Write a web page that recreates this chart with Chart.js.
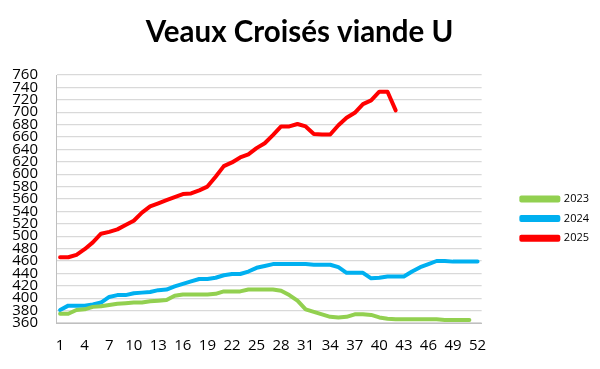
<!DOCTYPE html>
<html>
<head>
<meta charset="utf-8">
<script src="https://cdn.jsdelivr.net/npm/chart.js@4.4.1/dist/chart.umd.min.js"></script>
<style>
  html, body { margin: 0; padding: 0; background: #fff; }
  #wrap { width: 600px; height: 369px; position: relative; }
</style>
</head>
<body>
<div id="wrap"><canvas id="chart"></canvas></div>
<script>
const TITLE = 'Veaux Croisés viande U'
const SEMAINES = Array.from({ length: 52 }, (_, i) => String(i + 1))
const Y_MIN = 360
const Y_MAX = 760
const Y_STEP = 20

const SERIES_LABELS = ['2023', '2024', '2025']
const SERIES_COLORS = ['#92d050', '#00b0f0', '#ff0000']

const V2023 = [375, 375, 381, 382, 386, 387, 389, 391, 392, 393, 393, 395, 396, 397, 404, 406, 406, 406, 406, 407,
  411, 411, 411, 414, 414, 414, 414, 412, 405, 396, 382, 378, 374, 370, 369, 370, 374, 374, 373, 369,
  367, 366, 366, 366, 366, 366, 366, 365, 365, 365, 365, null]
const V2024 = [381, 388, 388, 388, 390, 393, 402, 405, 405, 408, 409, 410, 413, 414, 419, 423, 427, 431, 431, 433,
  437, 439, 439, 443, 449, 452, 455, 455, 455, 455, 455, 454, 454, 454, 450, 441, 441, 441, 432, 433,
  435, 435, 435, 443, 450, 455, 460, 460, 459, 459, 459, 459]
const V2025 = [466, 466, 470, 479, 490, 504, 507, 511, 518, 525, 538, 548, 553, 558, 563, 568, 569, 574, 580, 596,
  613, 619, 627, 632, 642, 650, 663, 677, 677, 681, 677, 665, 664, 664, 679, 691, 699, 713, 719, 733,
  733, 703]

const VALUES = [V2023, V2024, V2025]
const FONT = 'Open Sans'

new Chart(document.getElementById('chart'), {
  type: 'line',
  data: {
    labels: SEMAINES,
    datasets: SERIES_LABELS.map((lbl, i) => ({
      label: lbl,
      data: VALUES[i],
      borderColor: SERIES_COLORS[i],
      backgroundColor: SERIES_COLORS[i],
      borderWidth: 4,
      pointRadius: 0,
      tension: 0,
      borderJoinStyle: 'round',
      borderCapStyle: 'round',
      spanGaps: false
    }))
  },
  options: {
    responsive: true,
    maintainAspectRatio: false,
    animation: false,
    layout: { padding: { left: 0, right: 1, top: 0, bottom: 0 } },
    plugins: {
      title: {
        display: true,
        text: TITLE,
        color: '#000',
        font: { family: 'Lato', size: 29.5, weight: 'bold' },
        padding: { top: 15, bottom: 24.6 }
      },
      legend: {
        display: true,
        position: 'right',
        fullSize: false,
        align: 'center',
        title: { display: true, text: '', font: { size: 1 }, padding: { top: 19, bottom: 19 } },
        labels: {
          color: '#000',
          font: { family: FONT, size: 11 },
          boxWidth: 37,
          boxHeight: 3,
          padding: 8.7
        }
      },
      tooltip: { enabled: false }
    },
    scales: {
      x: {
        offset: true,
        grid: { display: false, drawTicks: false },
        border: { display: true, color: '#bfbfbf', width: 1 },
        ticks: {
          color: '#000',
          font: { family: FONT, size: 15 },
          padding: 14,
          autoSkip: false,
          maxRotation: 0,
          callback: function (v, i) { return i % 3 === 0 ? this.getLabelForValue(v) : '' }
        },
        afterFit: s => { s.height = 46 }
      },
      y: {
        min: Y_MIN,
        max: Y_MAX,
        grid: { color: '#d9d9d9', lineWidth: 1.3, drawTicks: false },
        border: { display: true, color: '#bfbfbf', width: 1 },
        ticks: {
          stepSize: Y_STEP,
          color: '#000',
          font: { family: FONT, size: 15, lineHeight: 1 },
          padding: 18,
          autoSkip: false
        },
        afterFit: s => { s.width = 56 }
      },
      gap: {
        position: 'right',
        display: true,
        grid: { display: false, drawTicks: false },
        border: { display: false },
        ticks: { display: false },
        afterFit: s => { s.width = 31 }
      }
    }
  }
})
</script>
</body>
</html>
